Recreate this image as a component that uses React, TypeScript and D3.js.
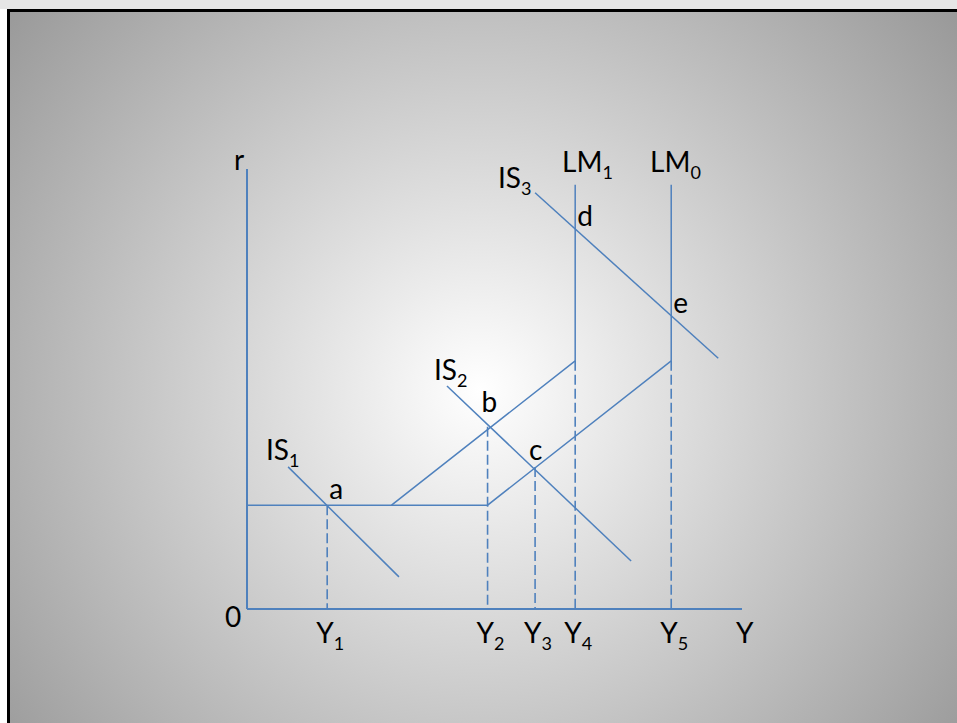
import * as d3 from "d3";

// IS-LM diagram, units: output Y 0..100, interest r 0..100
const yTicks = [16.2, 48.6, 58.2, 66.3, 85.7];
const yTickNames = ["1", "2", "3", "4", "5"];

const floorR = 23.6;
const lmKinkR = 56.4;
const lmTopR = 96.4;

const lm0 = [[0, floorR], [48.6, floorR], [85.7, lmKinkR], [85.7, lmTopR]];
const lm1 = [[29.2, floorR], [66.3, lmKinkR], [66.3, lmTopR]];
const is1 = [[8.3, 32.3], [30.7, 7.3]];
const is2 = [[40.4, 50.7], [77.6, 10.9]];
const is3 = [[58.2, 94.6], [95.2, 57.0]];

// dashed drops: [Y, r where it starts]
const drops = [[16.2, floorR], [48.6, 41.4], [58.2, 32.3], [66.3, lmKinkR], [85.7, lmKinkR]];

// point labels
const pointNames = ["a", "b", "c", "d", "e"];
const pointAt = [[16.2, floorR], [48.6, 41.4], [58.2, 32.3], [66.3, 86.5], [85.7, 66.8]];

const W = 957;
const H = 723;
const blue = "#4F81BD";
const font = "Lato, Carlito, Calibri, sans-serif";

export default function App() {
  const x = d3.scaleLinear().domain([0, 100]).range([247, 742]);
  const y = d3.scaleLinear().domain([0, 100]).range([609, 169]);
  const line = d3.line<number[]>().x(d => x(d[0])).y(d => y(d[1]));

  const label = (main: string, sub: string | null, px: number, py: number, anchor = "start") => (
    <text x={px} y={py} fontFamily={font} fontSize={28} fill="#000" textAnchor={anchor}>
      {main}
      {sub !== null && <tspan fontSize={18} dy={7}>{sub}</tspan>}
    </text>
  );

  return (
    <svg width={W} height={H} style={{ position: "absolute", left: 0, top: 0, background: "#fff" }}>
      <defs>
        <radialGradient id="bg" gradientUnits="userSpaceOnUse" cx={480} cy={390} r={620}>
          <stop offset="0" stopColor="#ffffff" />
          <stop offset="1" stopColor="#979797" />
        </radialGradient>
      </defs>
      <rect x={0} y={0} width={W} height={9} fill="#e6e6e6" />
      <rect x={8.5} y={10.5} width={1000} height={800} fill="url(#bg)" stroke="#000" strokeWidth={3} />

      {/* axes */}
      <line x1={x(0)} y1={y(0)} x2={x(0)} y2={y(100)} stroke={blue} strokeWidth={2} />
      <line x1={x(0)} y1={y(0)} x2={x(100)} y2={y(0)} stroke={blue} strokeWidth={2} />

      {/* dashed drop lines */}
      {drops.map((d, i) => (
        <line key={i} x1={x(d[0])} x2={x(d[0])} y1={y(d[1])} y2={y(0)}
          stroke={blue} strokeWidth={1.6} strokeDasharray="10,4" />
      ))}

      {[lm0, lm1, is1, is2, is3].map((c, i) => (
        <path key={i} d={line(c) || ""} fill="none" stroke={blue} strokeWidth={1.5} />
      ))}

      {/* labels */}
      {label("r", null, 234, 170)}
      {label("0", null, 225, 627)}
      {label("Y", null, 736, 643)}
      {yTicks.map((t, i) => (
        <g key={i}>{label("Y", yTickNames[i], x(t) + 3, 643, "middle")}</g>
      ))}
      {label("IS", "1", 266, 460)}
      {label("IS", "2", 434, 380)}
      {label("IS", "3", 498, 188)}
      {label("LM", "1", 562, 172)}
      {label("LM", "0", 650, 172)}
      {pointNames.map((n, i) => {
        const offs = [[2, -6], [-6, -15], [-6, -7], [2, -2], [2, -2]][i];
        return <g key={n}>{label(n, null, x(pointAt[i][0]) + offs[0], y(pointAt[i][1]) + offs[1])}</g>;
      })}
    </svg>
  );
}
